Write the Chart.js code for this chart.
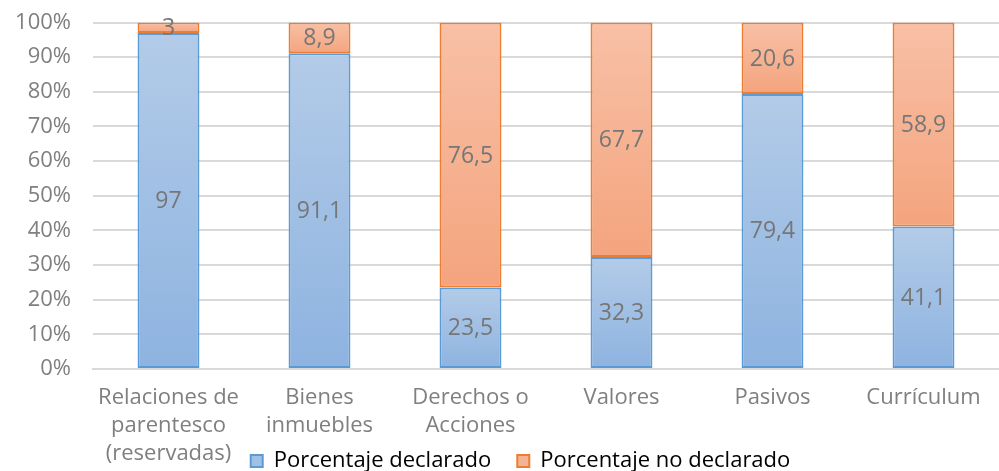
<!DOCTYPE html>
<html>
<head>
<meta charset="utf-8">
<script src="https://cdn.jsdelivr.net/npm/chart.js@4.4.1/dist/chart.umd.min.js"></script>
<style>
  html, body { margin: 0; padding: 0; background: #fff; }
  #wrap { width: 999px; height: 471px; }
</style>
</head>
<body>
<div id="wrap"><canvas id="chart"></canvas></div>
<script>
const categories = [
  ['Relaciones de', 'parentesco', '(reservadas)'],
  ['Bienes', 'inmuebles'],
  ['Derechos o', 'Acciones'],
  'Valores',
  'Pasivos',
  'Currículum'
];
const declarado = [97, 91.1, 23.5, 32.3, 79.4, 41.1];
const noDeclarado = [3, 8.9, 76.5, 67.7, 20.6, 58.9];
const yTicks = [0, 10, 20, 30, 40, 50, 60, 70, 80, 90, 100];

const FONT = '"Open Sans", "DejaVu Sans", sans-serif';
const GRAY = '#7f7f7f';

// gradient per segment, light at top, darker at the bottom
function segmentFill(top, bottom) {
  return (context) => {
    const chart = context.chart;
    if (context.type !== 'data' || !chart.chartArea) return bottom;
    const y = chart.scales.y;
    let start = 0;
    for (let i = 0; i < context.datasetIndex; i++) {
      start += chart.data.datasets[i].data[context.dataIndex];
    }
    const end = start + context.raw;
    const g = chart.ctx.createLinearGradient(0, y.getPixelForValue(end), 0, y.getPixelForValue(start));
    g.addColorStop(0, top);
    g.addColorStop(1, bottom);
    return g;
  };
}

const valueLabels = {
  id: 'valueLabels',
  afterDatasetsDraw(chart) {
    const ctx = chart.ctx;
    ctx.save();
    ctx.font = '23px ' + FONT;
    ctx.fillStyle = '#767676';
    ctx.textAlign = 'center';
    ctx.textBaseline = 'middle';
    chart.data.datasets.forEach((ds, di) => {
      chart.getDatasetMeta(di).data.forEach((bar, i) => {
        const p = bar.getProps(['x', 'y', 'base'], true);
        ctx.fillText(String(ds.data[i]).replace('.', ','), p.x, (p.y + p.base) / 2 + 1);
      });
    });
    ctx.restore();
  }
};

// pull the legend up beside the three-line first label
const legendShift = {
  id: 'legendShift',
  afterLayout(chart) {
    const lg = chart.legend;
    const pad = lg.options.labels.padding;
    const h = lg.bottom - lg.top;
    lg.top = 461 - pad - 11;
    lg.bottom = lg.top + h;
    lg.left += 15;
    lg.right += 15;
    chart.scales.x.bottom = chart.height;
  }
};

new Chart(document.getElementById('chart'), {
  type: 'bar',
  data: {
    labels: categories,
    datasets: [
      {
        label: 'Porcentaje declarado',
        data: declarado,
        backgroundColor: segmentFill('#b3cbe8', '#8db3e0'),
        borderColor: '#5b9bd5',
        borderWidth: 2,
        borderSkipped: false
      },
      {
        label: 'Porcentaje no declarado',
        data: noDeclarado,
        backgroundColor: segmentFill('#f8c0a6', '#f4a47e'),
        borderColor: '#ed7d31',
        borderWidth: 2,
        borderSkipped: false
      }
    ]
  },
  options: {
    responsive: true,
    maintainAspectRatio: false,
    animation: false,
    devicePixelRatio: 1,
    barPercentage: 0.82,
    categoryPercentage: 0.5,
    layout: { padding: { top: 22.5, right: -12, bottom: 0, left: 0 } },
    scales: {
      x: {
        stacked: true,
        grid: { display: false, drawTicks: false },
        border: { color: '#d9d9d9', width: 2 },
        ticks: {
          color: GRAY,
          font: { family: FONT, size: 22, lineHeight: 1.27 },
          padding: 15,
          maxRotation: 0,
          autoSkip: false
        },
        afterFit(s) {
          const lg = s.chart.legend;
          s.height = 102 - (lg ? lg.height : 0);
        }
      },
      y: {
        stacked: true,
        min: 0,
        max: 100,
        afterBuildTicks(s) { s.ticks = yTicks.map(v => ({ value: v })); },
        grid: {
          color: '#d9d9d9',
          lineWidth: 2,
          drawTicks: true,
          tickLength: 20,
          tickColor: 'rgba(0,0,0,0)'
        },
        border: { display: false },
        ticks: {
          color: GRAY,
          font: { family: FONT, size: 22 },
          padding: 2,
          callback: v => v + '%'
        },
        afterFit(s) { s.width = 93; }
      }
    },
    plugins: {
      legend: {
        position: 'bottom',
        labels: {
          color: GRAY,
          font: { family: FONT, size: 22 },
          boxWidth: 12,
          boxHeight: 12,
          padding: 26,
          generateLabels(chart) {
            const fills = ['#a0c0e4', '#f6b393'];
            return chart.data.datasets.map((ds, i) => ({
              text: ds.label,
              fillStyle: fills[i],
              strokeStyle: ds.borderColor,
              lineWidth: 2,
              datasetIndex: i,
              hidden: false
            }));
          }
        }
      },
      tooltip: { enabled: false }
    }
  },
  plugins: [valueLabels, legendShift]
});
</script>
</body>
</html>
